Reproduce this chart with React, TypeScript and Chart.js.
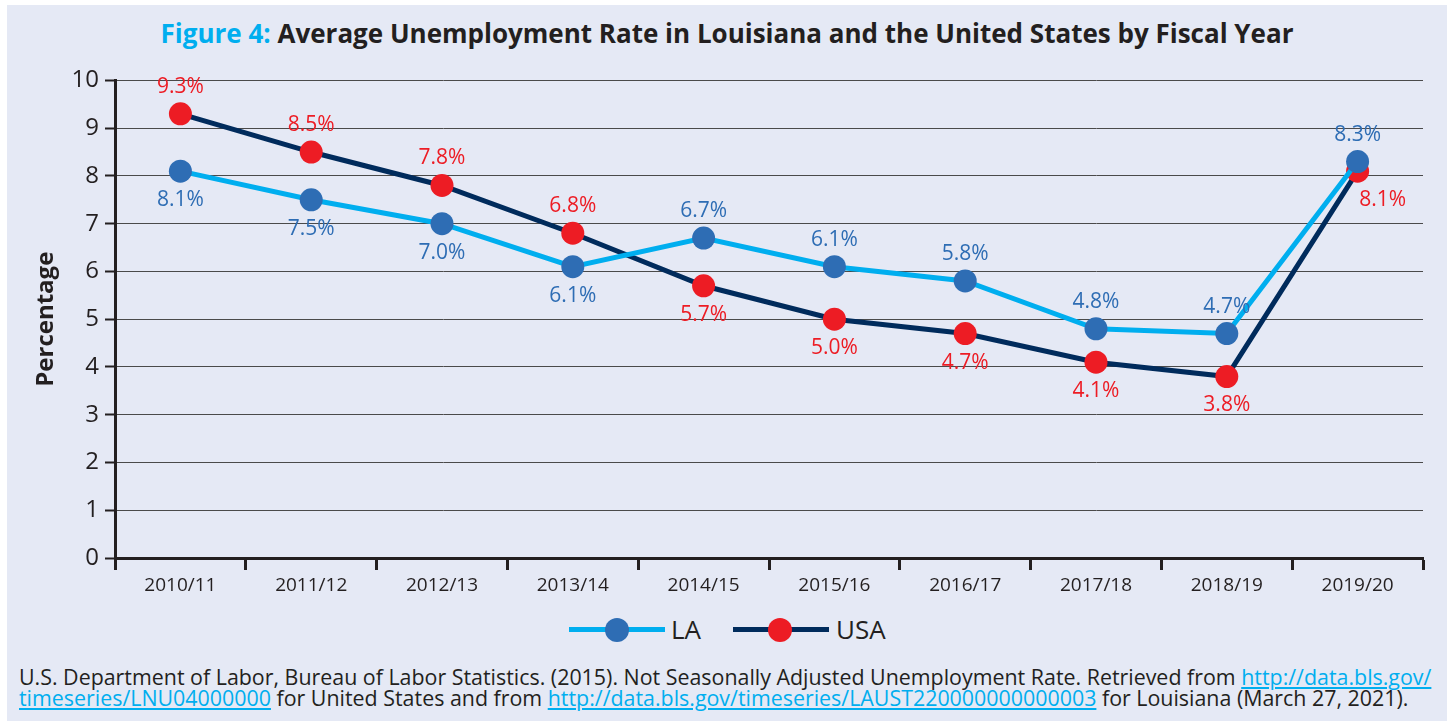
import React, { useEffect, useRef } from "react";
import { Chart, registerables } from "chart.js";

Chart.register(...registerables);

const categories = ["2010/11", "2011/12", "2012/13", "2013/14", "2014/15", "2015/16", "2016/17", "2017/18", "2018/19", "2019/20"];
const laValues = [8.1, 7.5, 7.0, 6.1, 6.7, 6.1, 5.8, 4.8, 4.7, 8.3];
const usaValues = [9.3, 8.5, 7.8, 6.8, 5.7, 5.0, 4.7, 4.1, 3.8, 8.1];
const laLabelSide = ["below", "below", "below", "below", "above", "above", "above", "above", "above", "above"];
const usaLabelSide = ["above", "above", "above", "above", "below", "below", "below", "below", "below", "belowRight"];
const yMin = 0;
const yMax = 10;
const yStep = 1;

const FONT = "'Open Sans', 'Noto Sans', sans-serif";
const LA_LINE = "#00aeef";
const LA_DOT = "#2e6db4";
const US_LINE = "#002b5c";
const US_DOT = "#ed1c24";
const INK = "#231f20";
const PANEL = "#e5e9f5";

const labelPlugin = {
  id: "valueLabels",
  afterDatasetsDraw(chart: any) {
    const ctx = chart.ctx;
    const sides = [laLabelSide, usaLabelSide];
    const colors = [LA_DOT, US_DOT];
    chart.data.datasets.forEach((ds: any, di: number) => {
      const meta = chart.getDatasetMeta(di);
      meta.data.forEach((pt: any, i: number) => {
        const v = ds.data[i] as number;
        const side = sides[di][i];
        let x = pt.x;
        let y = pt.y;
        if (side === "above") y -= 27;
        else if (side === "below") y += 29;
        else { y += 29; x += 25; }
        ctx.save();
        ctx.font = `21px ${FONT}`;
        ctx.fillStyle = colors[di];
        ctx.textAlign = "center";
        ctx.textBaseline = "middle";
        ctx.fillText(v.toFixed(1) + "%", x, y);
        ctx.restore();
      });
    });
  },
};

function ChartCanvas() {
  const ref = useRef<HTMLCanvasElement>(null);
  useEffect(() => {
    if (!ref.current) return;
    const chart = new Chart(ref.current, {
      type: "line",
      data: {
        labels: categories,
        datasets: [
          {
            label: "LA",
            data: laValues,
            borderColor: LA_LINE,
            borderWidth: 5,
            backgroundColor: LA_DOT,
            pointBackgroundColor: LA_DOT,
            pointBorderColor: LA_DOT,
            pointBorderWidth: 0,
            pointRadius: 11.5,
            tension: 0,
          },
          {
            label: "USA",
            data: usaValues,
            borderColor: US_LINE,
            borderWidth: 5,
            backgroundColor: US_DOT,
            pointBackgroundColor: US_DOT,
            pointBorderColor: US_DOT,
            pointBorderWidth: 0,
            pointRadius: 11.5,
            tension: 0,
          },
        ],
      },
      options: {
        responsive: false,
        animation: false,
        devicePixelRatio: 1,
        layout: { padding: { top: 17, right: 24, left: 0, bottom: 0 } },
        plugins: {
          legend: { display: false },
          tooltip: { enabled: false },
          title: { display: false },
        },
        scales: {
          x: {
            type: "category",
            offset: true,
            grid: {
              offset: true,
              drawOnChartArea: false,
              drawTicks: true,
              tickLength: 12,
              tickColor: INK,
              tickWidth: 3,
              color: INK,
            },
            border: { display: true, color: INK, width: 3 },
            ticks: {
              color: INK,
              font: { family: FONT, size: 19 },
              padding: 4,
              maxRotation: 0,
            },
            afterFit: (s: any) => { s.height = 47; },
          },
          y: {
            min: yMin,
            max: yMax,
            grid: {
              color: "#4a4a4a",
              lineWidth: 1,
              drawTicks: true,
              tickLength: 10,
              tickColor: INK,
              tickWidth: 2,
            },
            border: { display: true, color: INK, width: 3 },
            ticks: {
              stepSize: yStep,
              color: INK,
              font: { family: FONT, size: 24 },
              padding: 6,
            },
            title: {
              display: true,
              text: "Percentage",
              color: INK,
              font: { family: FONT, size: 24, weight: "bold" },
              padding: { top: 25, bottom: 0 },
            },
            afterFit: (s: any) => { s.width = 108; },
          },
        },
      },
      plugins: [labelPlugin],
    } as any);
    return () => chart.destroy();
  }, []);
  return (
    <canvas
      ref={ref}
      width={1440}
      height={545}
      style={{ position: "absolute", left: 0, top: 55, width: 1440, height: 545 }}
    />
  );
}

const linkStyle: React.CSSProperties = { color: LA_LINE, textDecoration: "underline" };

export default function App() {
  return (
    <div style={{ position: "absolute", left: 7, top: 5, width: 1440, height: 716, background: PANEL, fontFamily: FONT, color: INK }}>
      <div style={{ position: "absolute", left: 0, top: 12, width: 1440, textAlign: "center", fontSize: 26, lineHeight: "32px", fontWeight: 700, whiteSpace: "nowrap" }}>
        <span style={{ color: LA_LINE }}>Figure 4:</span> Average Unemployment Rate in Louisiana and the United States by Fiscal Year
      </div>
      <ChartCanvas />
      {/* Legend */}
      <div style={{ position: "absolute", left: 562, top: 622, width: 96, height: 5, background: LA_LINE }} />
      <div style={{ position: "absolute", left: 598, top: 613, width: 24, height: 24, borderRadius: "50%", background: LA_DOT }} />
      <div style={{ position: "absolute", left: 664, top: 606, fontSize: 26, lineHeight: "36px" }}>LA</div>
      <div style={{ position: "absolute", left: 726, top: 622, width: 96, height: 5, background: US_LINE }} />
      <div style={{ position: "absolute", left: 761, top: 613, width: 24, height: 24, borderRadius: "50%", background: US_DOT }} />
      <div style={{ position: "absolute", left: 829, top: 606, fontSize: 26, lineHeight: "36px" }}>USA</div>
      {/* Source */}
      <div style={{ position: "absolute", left: 12, top: 661, fontSize: 21.4, lineHeight: "21px", whiteSpace: "nowrap" }}>
        U.S. Department of Labor, Bureau of Labor Statistics. (2015). Not Seasonally Adjusted Unemployment Rate. Retrieved from <span style={linkStyle}>http://data.bls.gov/</span>
        <br />
        <span style={linkStyle}>timeseries/LNU04000000</span> for United States and from <span style={linkStyle}>http://data.bls.gov/timeseries/LAUST220000000000003</span> for Louisiana (March 27, 2021).
      </div>
    </div>
  );
}
